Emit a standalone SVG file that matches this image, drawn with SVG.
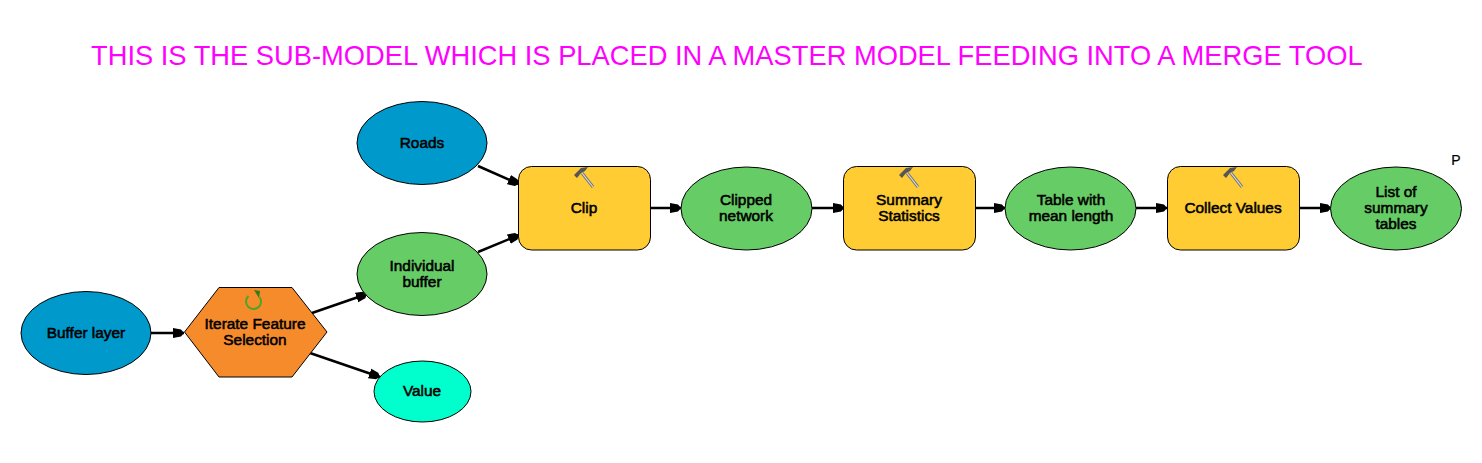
<svg xmlns="http://www.w3.org/2000/svg" width="1482" height="463" viewBox="0 0 1482 463">
  <style>
    .title { font: 27.3px "Liberation Sans", Arial, sans-serif; fill: #ff00ff; }
    .label { font: 15.4px "Liberation Sans", Arial, sans-serif; fill: #000; stroke: #000; stroke-width: 0.55; text-anchor: middle; }
    .mark { font: 14px "Liberation Sans", Arial, sans-serif; fill: #000; stroke: #000; stroke-width: 0.2; text-anchor: middle; }
    .shape { stroke: #000; stroke-width: 1; }
    .input { fill: #0099cc; }
    .derived { fill: #66cc66; }
    .value { fill: #00ffcc; }
    .tool { fill: #ffcc33; }
    .iter { fill: #f68b2c; }
    .link { fill: none; stroke: #000; stroke-width: 2.5; marker-end: url(#head); }
  </style>
  <defs>
    <marker id="head" markerUnits="userSpaceOnUse" markerWidth="12" markerHeight="12" refX="11" refY="6" orient="auto">
      <path d="M0 1 L8 2.5 L11 6 L8 9.5 L0 11 Z" fill="#000"/>
    </marker>
    <g id="hammer">
      <path d="M-2 -4 L9 10" stroke="#777" stroke-width="3" fill="none"/>
      <path d="M-2 -4 L9 10" stroke="#ddd" stroke-width="1.2" fill="none"/>
      <path d="M-10 -2 L-3 -9 L4 -10 L1 -6 L-3 -4 L-7 1 Z" fill="#555"/>
    </g>
  </defs>

  <rect width="1482" height="463" fill="#fff"/>
  <text class="title" x="91" y="65">THIS IS THE SUB-MODEL WHICH IS PLACED IN A MASTER MODEL FEEDING INTO A MERGE TOOL</text>

  <g id="connectors">
    <path class="link" d="M151 333 H184"/>
    <path class="link" d="M312 313 L367 294"/>
    <path class="link" d="M310 353 L380 377"/>
    <path class="link" d="M478 166 L519 184"/>
    <path class="link" d="M478 252 L519 235"/>
    <path class="link" d="M651 208 H681"/>
    <path class="link" d="M812 208 H844"/>
    <path class="link" d="M976 208 H1005"/>
    <path class="link" d="M1136 208 H1167"/>
    <path class="link" d="M1300 208 H1331"/>
  </g>

  <g id="buffer-layer">
    <ellipse class="shape input" cx="86" cy="333" rx="65" ry="41.5"/>
    <text class="label" x="86" y="338">Buffer layer</text>
  </g>
  <g id="iterate-feature-selection">
    <polygon class="shape iter" points="184.5,332 219,287.5 292,287.5 327,332 292,377 219,377"/>
    <path d="M248.5 296 A7.5 7.5 0 1 0 259.5 297" fill="none" stroke="#4ea524" stroke-width="2"/>
    <path d="M254 290 L260 291 L259 298 Z" fill="#2f7d1e"/>
    <text class="label" x="255" y="329">Iterate Feature</text>
    <text class="label" x="255" y="345">Selection</text>
  </g>
  <g id="individual-buffer">
    <ellipse class="shape derived" cx="422" cy="274" rx="65" ry="41.5"/>
    <text class="label" x="422" y="271">Individual</text>
    <text class="label" x="422" y="287">buffer</text>
  </g>
  <g id="value">
    <ellipse class="shape value" cx="422.5" cy="391.5" rx="48.5" ry="30.5"/>
    <text class="label" x="422" y="396">Value</text>
  </g>
  <g id="roads">
    <ellipse class="shape input" cx="422" cy="143" rx="65" ry="41.5"/>
    <text class="label" x="422" y="148">Roads</text>
  </g>
  <g id="clip">
    <rect class="shape tool" x="518.5" y="166.5" width="132" height="83.5" rx="13"/>
    <use href="#hammer" x="584" y="177"/>
    <text class="label" x="584" y="213">Clip</text>
  </g>
  <g id="clipped-network">
    <ellipse class="shape derived" cx="746.5" cy="208.5" rx="65.5" ry="41.5"/>
    <text class="label" x="746" y="205">Clipped</text>
    <text class="label" x="746" y="221">network</text>
  </g>
  <g id="summary-statistics">
    <rect class="shape tool" x="843.5" y="166.5" width="132" height="83.5" rx="13"/>
    <use href="#hammer" x="909" y="177"/>
    <text class="label" x="909" y="205">Summary</text>
    <text class="label" x="909" y="221">Statistics</text>
  </g>
  <g id="table-with-mean-length">
    <ellipse class="shape derived" cx="1070.5" cy="208.5" rx="65.5" ry="41.5"/>
    <text class="label" x="1071" y="205">Table with</text>
    <text class="label" x="1071" y="221">mean length</text>
  </g>
  <g id="collect-values">
    <rect class="shape tool" x="1167.5" y="166.5" width="132" height="83.5" rx="13"/>
    <use href="#hammer" x="1233" y="177"/>
    <text class="label" x="1233" y="213">Collect Values</text>
  </g>
  <g id="list-of-summary-tables">
    <ellipse class="shape derived" cx="1396" cy="208.5" rx="65.5" ry="41.5"/>
    <text class="label" x="1396" y="197">List of</text>
    <text class="label" x="1396" y="213">summary</text>
    <text class="label" x="1396" y="229">tables</text>
    <text class="mark" x="1456" y="165">P</text>
  </g>
</svg>
